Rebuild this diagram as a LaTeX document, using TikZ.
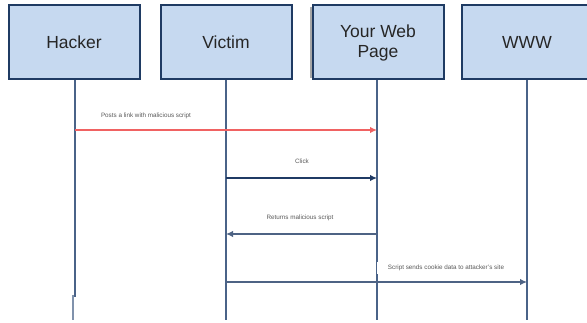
\documentclass[tikz,border=0pt]{standalone}
\usepackage{fontspec}
\setmainfont{Liberation Sans}
\usetikzlibrary{arrows.meta}
\definecolor{boxfill}{HTML}{C6D9F0}
\definecolor{boxline}{HTML}{1F3B63}
\definecolor{lifeblue}{HTML}{4A6388}
\definecolor{msgred}{HTML}{F06262}
\definecolor{msgnavy}{HTML}{1F3A64}
\definecolor{msgslate}{HTML}{4E6384}
\definecolor{labelgray}{HTML}{5A5A5A}
\tikzset{
  x=1pt, y=-1pt,
  actor/.style={draw=boxline, line width=2pt, fill=boxfill, minimum width=131pt,
    minimum height=74pt, inner sep=0pt, align=center,
    font=\fontsize{17.5}{20}\selectfont, text=black!85},
  lifeline/.style={draw=lifeblue, line width=2.4pt},
  msg/.style={line width=2pt, -{Latex[length=7pt,width=6.5pt]}},
  msglabel/.style={font=\fontsize{6.3}{7}\selectfont, text=labelgray, inner sep=1pt}
}
\begin{document}
\begin{tikzpicture}
\useasboundingbox (0,0) rectangle (587,323);
\clip (0,0) rectangle (587,323);
\fill[white] (0,0) rectangle (587,323);

% lifeline ends
\coordinate (vb) at (226,320);
\coordinate (pb) at (377,320);
\coordinate (wb) at (527,320);

% participants
\fill[gray!70] (310,7) rectangle (314,78);
\node[actor] (hacker) at (74,42.5) {Hacker};
\node[actor] (victim) at (226,42.5) {Victim};
\node[actor] (page) at (378,42.5) {Your Web\\Page};
\node[actor] (www) at (527,42.5) {WWW};

% lifelines
\draw[lifeline] (hacker.south -| 75,0) -- (75,297) coordinate (hj);
\draw[lifeline, draw=lifeblue!70] (73,295) -- (73,320) coordinate (hb);
\draw[lifeline] (victim.south) -- (vb);
\draw[lifeline] (page.south -| pb) -- (pb);
\draw[lifeline] (www.south) -- (wb);

% message anchor points on the lifelines
\coordinate (m1s) at (75,130);  \coordinate (m1e) at (377,130);
\coordinate (m2s) at (226,178); \coordinate (m2e) at (377,178);
\coordinate (m3s) at (377,234); \coordinate (m3e) at (226,234);
\coordinate (m4s) at (226,282); \coordinate (m4e) at (527,282);

% messages
\draw[msg, draw=msgred, fill=msgred] (m1s) -- (m1e);
\node[msglabel] (l1) at (146,116) {Posts a link with malicious script};

\draw[msg, draw=msgnavy, fill=msgnavy] (m2s) -- (m2e);
\node[msglabel] (l2) at (302,161) {Click};

\draw[msg, draw=msgslate, fill=msgslate] (m3s) -- (m3e);
\node[msglabel] (l3) at (300,218) {Returns malicious script};

\node[msglabel, fill=white, minimum width=138pt, minimum height=12pt] (l4) at (446,268)
  {Script sends cookie data to attacker's site};
\draw[msg, draw=msgslate, fill=msgslate] (m4s) -- (m4e);
\end{tikzpicture}
\end{document}
